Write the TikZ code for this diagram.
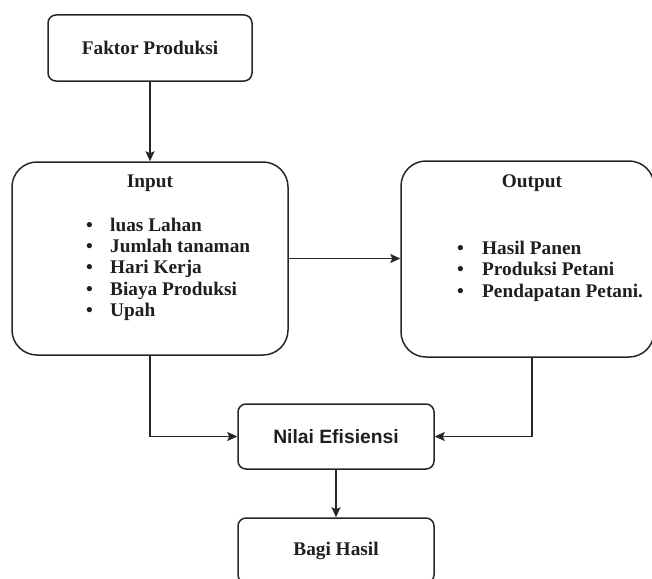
\documentclass[tikz,border=0pt]{standalone}
\usepackage{fontspec}
\setmainfont{Liberation Serif}
\newfontfamily\sansf{Liberation Sans}
\usetikzlibrary{arrows.meta}
\begin{document}
\begin{tikzpicture}[x=1pt,y=-1pt,
  box/.style={draw=black!85, line width=1.5pt, rounded corners=8pt, inner sep=0pt,
    font=\fontsize{19.3}{21.3}\selectfont\bfseries, text=black!88},
  bigbox/.style={box, rounded corners=25pt},
  lbl/.style={font=\fontsize{19.3}{21.3}\selectfont\bfseries, text=black!88, inner sep=0pt},
  arr/.style={draw=black!85, line width=1.5pt, -{Stealth[length=10pt,width=9pt,inset=2pt]}}]
\useasboundingbox (0,0) rectangle (652,578);
\clip (0,0) rectangle (652,578);
% boxes
\node[box, minimum width=204pt, minimum height=66pt] (faktor) at (150,48) {Faktor Produksi};
\node[bigbox, minimum width=276pt, minimum height=193pt] (input) at (150,258.5) {};
\node[bigbox, minimum width=253pt, minimum height=196pt] (output) at (527.5,259) {};
\node[box, minimum width=196pt, minimum height=65pt, font=\fontsize{19.3}{21.3}\selectfont\sansf\bfseries] (nilai) at (336,436.5) {Nilai Efisiensi};
\node[box, minimum width=196pt, minimum height=65pt] (bagi) at (336,550.5) {Bagi Hasil};
% texts
\node[lbl] (inputT) at (150,183) {Input};
\node[lbl, anchor=west] (inputL) at (86,269.5) {\begin{tabular}{@{}p{24pt}@{}l@{}}
\textbullet & luas Lahan\\
\textbullet & Jumlah tanaman\\
\textbullet & Hari Kerja\\
\textbullet & Biaya Produksi\\
\textbullet & Upah
\end{tabular}};
\node[lbl] (outputT) at (532,183) {Output};
\node[lbl, anchor=west] (outputL) at (457,271.5) {\begin{tabular}{@{}p{25pt}@{}l@{}}
\textbullet & Hasil Panen\\
\textbullet & Produksi Petani\\
\textbullet & Pendapatan Petani.
\end{tabular}};
% connectors
\draw[arr] (faktor.south) -- (input.north);
\draw[arr] (input.east) -- (input.east -| output.west);
\draw[arr] (input.south) |- (nilai.west);
\draw[arr] ([xshift=4.5pt]output.south) |- (nilai.east);
\draw[arr] (nilai.south) -- (bagi.north);
\end{tikzpicture}
\end{document}
